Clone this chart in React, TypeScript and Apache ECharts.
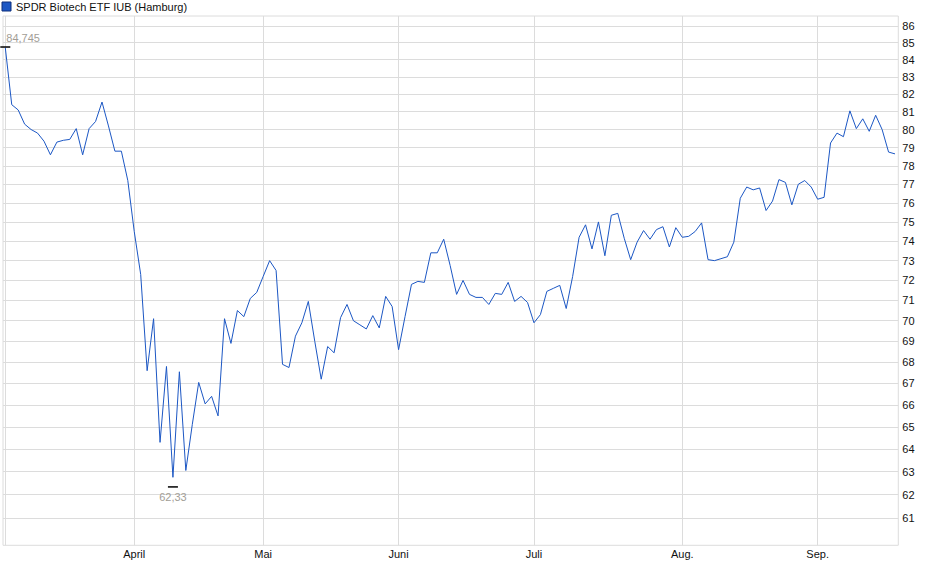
import { useEffect, useRef } from "react";
import * as echarts from "echarts";

// Schlusskurse je Handelstag (4. März bis 17. Sep.), Index 0 = erster Handelstag
const closes = [
  84.7, 81.4, 81.1, 80.3, 80.0, 79.8, 79.35, 78.6, 79.3, 79.4,
  79.45, 80.05, 78.6, 80.05, 80.45, 81.55, 80.2, 78.8, 78.8, 77.2,
  74.5, 72.3, 67.6, 70.1, 64.3, 67.8, 62.75, 67.55, 63.05, 65.1,
  67.05, 66.05, 66.4, 65.5, 70.1, 68.9, 70.5, 70.2, 71.1, 71.4,
  72.2, 73.0, 72.5, 67.9, 67.75, 69.25, 69.9, 70.95, 69.0, 67.2,
  68.75, 68.45, 70.15, 70.8, 70.0, 69.8, 69.6, 70.25, 69.65, 71.2,
  70.7, 68.6, 70.2, 71.8, 71.95, 71.9, 73.4, 73.4, 74.1, 72.75,
  71.3, 72.0, 71.3, 71.15, 71.15, 70.8, 71.35, 71.3, 71.9, 70.95,
  71.2, 70.9, 69.9, 70.3, 71.45, 71.6, 71.75, 70.6, 72.2, 74.2,
  74.85, 73.6, 75.0, 73.25, 75.35, 75.45, 74.15, 73.05, 73.95, 74.55,
  74.1, 74.6, 74.75, 73.7, 74.7, 74.2, 74.25, 74.5, 74.95, 73.05,
  73.0, 73.1, 73.2, 73.95, 76.25, 76.85, 76.7, 76.8, 75.6, 76.1,
  77.25, 77.1, 75.9, 77.0, 77.2, 76.85, 76.2, 76.3, 79.25, 79.8,
  79.6, 81.05, 80.05, 80.6, 79.9, 80.8, 80.0, 78.75, 78.65,
];

// Monatsanfänge (Index des ersten Handelstags) und Beschriftung
const monthStartIdx = [20, 40, 61, 82, 105, 126];
const monthLabels = ["April", "Mai", "Juni", "Juli", "Aug.", "Sep."];

// Rechte Achse (logarithmisch)
const yTicks = [61, 62, 63, 64, 65, 66, 67, 68, 69, 70, 71, 72, 73, 74, 75, 76, 77, 78, 79, 80, 81, 82, 83, 84, 85, 86];
const Y_MIN = 59.84;
const Y_MAX = 86.6;

// Hoch / Tief
const HIGH_IDX = 0;
const HIGH_VAL = 84.745;
const LOW_IDX = 26;
const LOW_VAL = 62.33;

const SERIES_NAME = "SPDR Biotech ETF IUB (Hamburg)";
const LINE = "#1c57c4";
const GRID = "#dcdcdc";
const FONT = "'Liberation Sans', Arial, sans-serif";

const de = (v: number) => String(v).replace(".", ",");

export default function App() {
  const ref = useRef<HTMLDivElement>(null);

  useEffect(() => {
    if (!ref.current) return;
    const chart = echarts.init(ref.current, undefined, { renderer: "svg" });

    chart.setOption({
      animation: false,
      backgroundColor: "#fff",
      textStyle: { fontFamily: FONT },
      legend: {
        left: 1.5,
        top: 1,
        icon: "rect",
        itemWidth: 9,
        itemHeight: 9,
        itemGap: 10,
        padding: 0,
        textStyle: { fontSize: 11, color: "#111", fontFamily: FONT },
        itemStyle: { color: LINE, borderColor: "#0c2f7c", borderWidth: 1 },
        data: [SERIES_NAME],
      },
      grid: {
        left: 3,
        top: 16,
        width: 895.3,
        height: 529.3,
        show: true,
        borderColor: GRID,
        borderWidth: 1,
        backgroundColor: "transparent",
      },
      xAxis: {
        type: "value",
        min: -0.357,
        max: 138.51,
        axisLine: { show: false },
        axisTick: { show: false, customValues: [0, ...monthStartIdx] },
        splitLine: { show: true, lineStyle: { color: GRID, width: 1 } },
        axisLabel: {
          customValues: monthStartIdx,
          margin: 3,
          fontSize: 11,
          color: "#111",
          fontFamily: FONT,
          formatter: (v: number) => {
            const i = monthStartIdx.indexOf(Math.round(v));
            return i >= 0 ? monthLabels[i] : "";
          },
        },
      },
      yAxis: {
        type: "log",
        logBase: 10,
        position: "right",
        min: Y_MIN,
        max: Y_MAX,
        axisLine: { show: false },
        axisTick: { show: false, customValues: yTicks },
        splitLine: { show: true, lineStyle: { color: GRID, width: 1 } },
        axisLabel: {
          customValues: yTicks,
          margin: 4,
          fontSize: 11,
          color: "#111",
          fontFamily: FONT,
          formatter: (v: number) => String(Math.round(v)),
        },
      },
      series: [
        {
          name: SERIES_NAME,
          type: "line",
          data: closes.map((v, i) => [i, v]),
          showSymbol: false,
          smooth: false,
          lineStyle: { color: LINE, width: 1 },
          itemStyle: { color: LINE },
          markPoint: {
            symbol: "rect",
            symbolSize: [10, 1.5],
            itemStyle: { color: "#000" },
            data: [
              {
                coord: [HIGH_IDX, HIGH_VAL],
                label: {
                  show: true,
                  formatter: de(HIGH_VAL),
                  position: [6, -8],
                  align: "left",
                  verticalAlign: "middle",
                  fontSize: 11,
                  color: "#a29d96",
                  fontFamily: FONT,
                },
              },
              {
                coord: [LOW_IDX, LOW_VAL],
                label: {
                  show: true,
                  formatter: de(LOW_VAL),
                  position: "bottom",
                  distance: 4,
                  fontSize: 11,
                  color: "#a29d96",
                  fontFamily: FONT,
                },
              },
            ],
          },
        },
      ],
    });

    return () => chart.dispose();
  }, []);

  return (
    <div
      ref={ref}
      style={{ position: "absolute", left: 0, top: 0, width: 940, height: 579 }}
    />
  );
}
